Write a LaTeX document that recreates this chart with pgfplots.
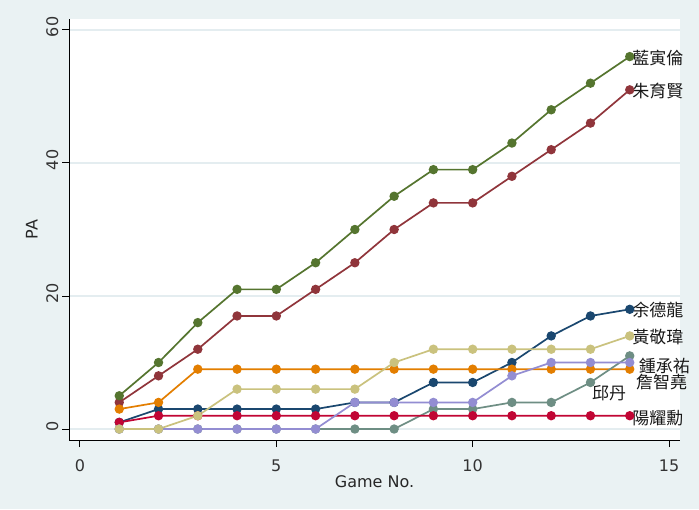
\documentclass[border=0pt]{standalone}
\usepackage{fontspec}
\setmainfont{DejaVu Sans}
\newfontfamily\cjk{Noto Sans CJK TC}
\usepackage{pgfplots}
\pgfplotsset{compat=1.18}

% Stata s2color palette
\definecolor{bgc}{RGB}{234,242,243}
\definecolor{gridc}{RGB}{228,237,240}
\definecolor{snavy}{HTML}{1A476F}
\definecolor{smaroon}{HTML}{90353B}
\definecolor{sgreen}{HTML}{55752F}
\definecolor{sorange}{HTML}{E37E00}
\definecolor{steal}{HTML}{6E8E84}
\definecolor{scran}{HTML}{C10534}
\definecolor{slav}{HTML}{938DD2}
\definecolor{skhaki}{HTML}{CAC27E}

\begin{document}
\begin{tikzpicture}[x=1pt,y=1pt]
\fill[bgc] (0,0) rectangle (699,509);
\begin{axis}[
    at={(69pt,69pt)}, anchor=south west,
    scale only axis,
    width=611pt, height=421pt,
    xmin=-0.28, xmax=15.28,
    ymin=-1.65, ymax=61.65,
    axis background/.style={fill=white},
    axis lines=left,
    axis line style={-, line width=1pt, black},
    tick align=outside,
    major tick length=7pt,
    tick style={black, line width=1pt},
    xtick={0,5,10,15},
    ytick={0,20,40,60},
    ymajorgrids,
    grid style={gridc, line width=1.5pt},
    /pgf/number format/assume math mode=true,
    ticklabel style={font=\fontsize{16}{19}\selectfont, text=black!80},
    yticklabel style={rotate=90, anchor=south, xshift=3pt},
    xticklabel style={yshift=-9pt},
    xlabel={Game No.},
    ylabel={PA},
    label style={font=\fontsize{16}{19}\selectfont, text=black!85},
    xlabel style={yshift=3pt},
    ylabel style={yshift=2pt},
    clip=false,
    every axis plot/.append style={line width=1.7pt, mark=*, mark size=3.8pt},
]
% 余德龍
\addplot[snavy, mark options={fill=snavy}] coordinates {
(1,1) (2,3) (3,3) (4,3) (5,3) (6,3) (7,4) (8,4) (9,7) (10,7) (11,10) (12,14) (13,17) (14,18)};
% 朱育賢
\addplot[smaroon, mark options={fill=smaroon}] coordinates {
(1,4) (2,8) (3,12) (4,17) (5,17) (6,21) (7,25) (8,30) (9,34) (10,34) (11,38) (12,42) (13,46) (14,51)};
% 藍寅倫
\addplot[sgreen, mark options={fill=sgreen}] coordinates {
(1,5) (2,10) (3,16) (4,21) (5,21) (6,25) (7,30) (8,35) (9,39) (10,39) (11,43) (12,48) (13,52) (14,56)};
% orange
\addplot[sorange, mark options={fill=sorange}] coordinates {
(1,3) (2,4) (3,9) (4,9) (5,9) (6,9) (7,9) (8,9) (9,9) (10,9) (11,9) (12,9) (13,9) (14,9)};
% teal
\addplot[steal, mark options={fill=steal}] coordinates {
(1,0) (2,0) (3,0) (4,0) (5,0) (6,0) (7,0) (8,0) (9,3) (10,3) (11,4) (12,4) (13,7) (14,11)};
% 陽耀勳
\addplot[scran, mark options={fill=scran}] coordinates {
(1,1) (2,2) (3,2) (4,2) (5,2) (6,2) (7,2) (8,2) (9,2) (10,2) (11,2) (12,2) (13,2) (14,2)};
% lavender
\addplot[slav, mark options={fill=slav}] coordinates {
(1,0) (2,0) (3,0) (4,0) (5,0) (6,0) (7,4) (8,4) (9,4) (10,4) (11,8) (12,10) (13,10) (14,10)};
% 黃敬瑋
\addplot[skhaki, mark options={fill=skhaki}] coordinates {
(1,0) (2,0) (3,2) (4,6) (5,6) (6,6) (7,6) (8,10) (9,12) (10,12) (11,12) (12,12) (13,12) (14,14)};

\begin{scope}[every node/.style={anchor=west, inner sep=0pt, font=\cjk\fontsize{17}{20}\selectfont, text=black!90}]
\node at (axis cs:14.06,55.8) {藍寅倫};
\node at (axis cs:14.06,50.8) {朱育賢};
\node at (axis cs:14.06,17.9) {余德龍};
\node at (axis cs:14.06,13.8) {黃敬瑋};
\node at (axis cs:14.23,9.5) {鍾承祐};
\node at (axis cs:14.16,7.1) {詹智堯};
\node at (axis cs:13.04,5.4) {邱丹};
\node at (axis cs:14.06,1.65) {陽耀勳};
\end{scope}
\end{axis}
\pgfresetboundingbox
\useasboundingbox (0,0) rectangle (699,509);
\end{tikzpicture}
\end{document}
